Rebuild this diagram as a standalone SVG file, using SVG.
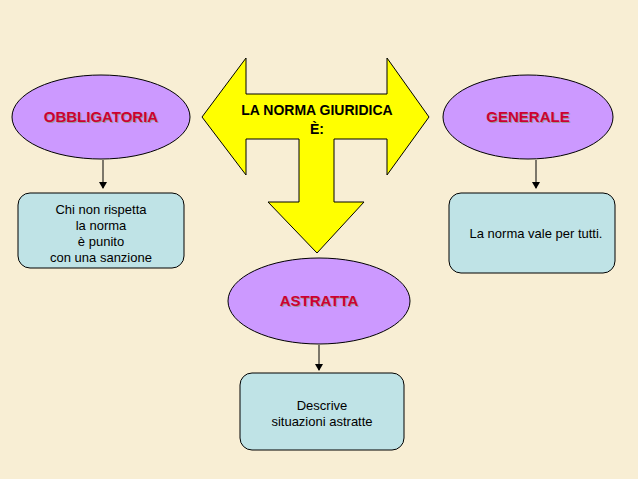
<svg xmlns="http://www.w3.org/2000/svg" width="638" height="479" viewBox="0 0 638 479">
<defs>
<marker id="ah" markerWidth="8" markerHeight="8" refX="6" refY="4" orient="auto" markerUnits="userSpaceOnUse"><path d="M0,0 L7,4 L0,8 Z" fill="#000"/></marker>
</defs>
<style>
.ell{fill:#cc99ff;stroke:#000;stroke-width:1}
.box{fill:#bfe3e6;stroke:#000;stroke-width:1}
.t{font-family:"Liberation Sans",Arial,sans-serif;font-weight:bold;font-size:15px;text-anchor:middle}
.sh{fill:#999}
.red{fill:#cc0033}
.bx{font-family:"Liberation Sans",Arial,sans-serif;font-size:13px;text-anchor:middle;fill:#000}
.c{stroke:#000;stroke-width:1;fill:none}
</style>
<rect width="638" height="479" fill="#f8eed4"/>
<g id="center">
<path d="M202,117 L246,58 L246,94 L387,94 L387,58 L429,117 L387,175 L387,139 L334,139 L334,202 L364,202 L317,253 L268,202 L299,202 L299,139 L246,139 L246,175 Z" fill="#ffff00" stroke="#000" stroke-width="1"/>
<text class="t" x="317" y="115" fill="#000" style="font-size:14px">LA NORMA GIURIDICA</text>
<text class="t" x="317" y="134" fill="#000" style="font-size:14px">È:</text>
</g>
<g id="obbligatoria">
<ellipse class="ell" cx="101" cy="117" rx="89" ry="42"/>
<text class="t sh" x="102" y="123">OBBLIGATORIA</text>
<text class="t red" x="101" y="122">OBBLIGATORIA</text>
</g>
<g id="generale">
<ellipse class="ell" cx="528" cy="117" rx="85" ry="42"/>
<text class="t sh" x="529" y="123">GENERALE</text>
<text class="t red" x="528" y="122">GENERALE</text>
</g>
<g id="astratta">
<ellipse class="ell" cx="319" cy="301" rx="91" ry="43"/>
<text class="t sh" x="320" y="307">ASTRATTA</text>
<text class="t red" x="319" y="306">ASTRATTA</text>
</g>
<g id="box1">
<rect class="box" x="18" y="193" width="166" height="75" rx="12"/>
<text class="bx" x="101" y="214">Chi non rispetta</text>
<text class="bx" x="101" y="230">la norma</text>
<text class="bx" x="101" y="246">è punito</text>
<text class="bx" x="101" y="262">con una sanzione</text>
</g>
<g id="box2">
<rect class="box" x="449" y="193" width="166" height="80" rx="12"/>
<text class="bx" x="536" y="238">La norma vale per tutti.</text>
</g>
<g id="box3">
<rect class="box" x="240" y="373" width="164" height="77" rx="12"/>
<text class="bx" x="322" y="410">Descrive</text>
<text class="bx" x="322" y="426">situazioni astratte</text>
</g>
<g id="connectors">
<line class="c" x1="103" y1="160" x2="103" y2="188" marker-end="url(#ah)"/>
<line class="c" x1="536" y1="160" x2="536" y2="188" marker-end="url(#ah)"/>
<line class="c" x1="319" y1="345" x2="319" y2="370" marker-end="url(#ah)"/>
</g>
</svg>
